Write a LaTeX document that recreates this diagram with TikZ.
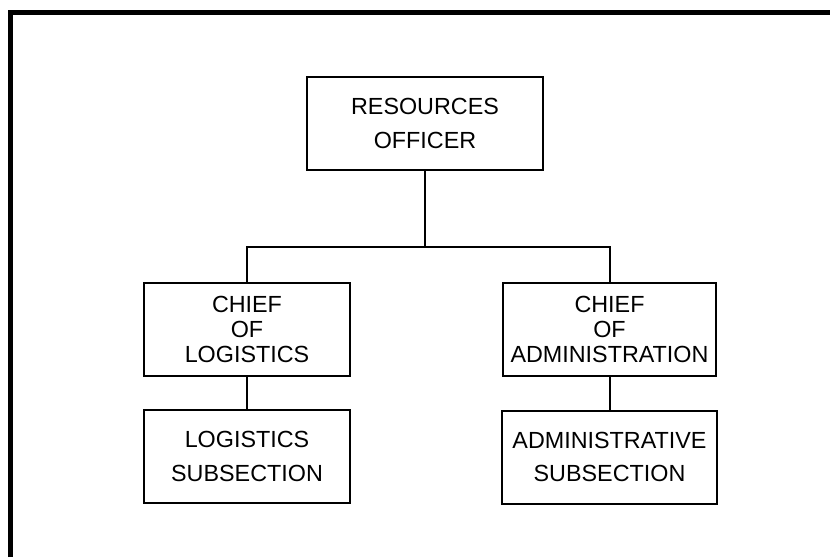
\documentclass[tikz,border=0pt]{standalone}
\usepackage{fontspec}
\setmainfont{Liberation Sans}

\begin{document}
\begin{tikzpicture}[x=0.75pt, y=-0.75pt,
    post/.style={draw, line width=1.5pt, align=center, inner sep=0pt,
        minimum height=69.75pt, font=\fontsize{17.5}{25}\selectfont},
    chief/.style={post, font=\fontsize{17.5}{18.75}\selectfont},
    link/.style={line width=1.5pt}]
    \useasboundingbox (0,0) rectangle (830,557);

    % frame
    \draw[line width=3.75pt, line join=miter] (10.5,557) -- (10.5,12.5) -- (830,12.5);

    % boxes
    \node[post, minimum width=177pt] (officer) at (425,123.5) {RESOURCES\\OFFICER};
    \node[chief, minimum width=154.5pt] (chiefLog) at (247,329.5) {CHIEF\\OF\\LOGISTICS};
    \node[chief, minimum width=159.75pt] (chiefAdm) at (609.5,329.5) {CHIEF\\OF\\ADMINISTRATION};
    \node[post, minimum width=154.5pt] (subLog) at (247,456.5) {LOGISTICS\\SUBSECTION};
    \node[post, minimum width=161.25pt] (subAdm) at (609.5,457) {ADMINISTRATIVE\\SUBSECTION};

    % connectors
    \coordinate (bus) at (425,247);
    \draw[link] (officer.south) -- (bus);
    \draw[link] (chiefLog.north) |- (bus) -| (chiefAdm.north);
    \draw[link] (chiefLog.south) -- (subLog.north);
    \draw[link] (chiefAdm.south) -- (subAdm.north);
\end{tikzpicture}
\end{document}
